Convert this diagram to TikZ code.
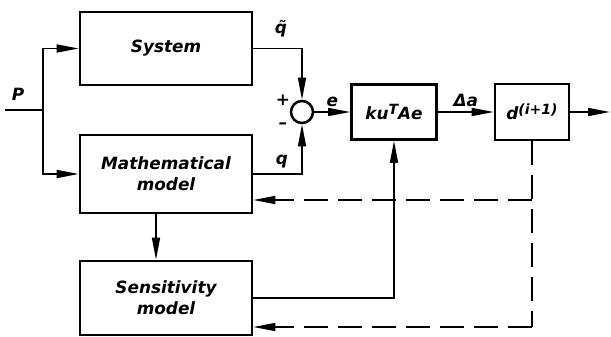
\documentclass[tikz,border=0pt]{standalone}
\usepackage{fontspec}
\setmainfont{DejaVu Sans}
\usepackage{tikz}
\usetikzlibrary{arrows.meta,positioning,calc}

\newcommand{\upidx}[1]{\raisebox{0.55ex}{\fontsize{10}{10}\selectfont #1}}

\begin{document}
\begin{tikzpicture}[x=0.025cm, y=-0.025cm, >={Triangle[length=5.5mm,width=2mm]}, line width=1.1pt, font=\bfseries\itshape\fontsize{12}{15}\selectfont]
\tikzstyle{block}=[draw, line width=1.8pt, inner sep=0pt, align=center]
\tikzstyle{sumpt}=[draw, circle, line width=1.8pt, minimum size=0.55cm, inner sep=0pt]
\tikzstyle{fb}=[dash pattern=on 6mm off 2.5mm]

\useasboundingbox (0,0) rectangle (611,336);

% blocks
\node[block, minimum width=4.3cm, minimum height=1.825cm] (sys) at (166,48.5) {System};
\node[block, minimum width=4.3cm, minimum height=1.95cm] (math) at (166,174) {Mathematical\\model};
\node[block, minimum width=4.3cm, minimum height=1.85cm] (sens) at (166,298) {Sensitivity\\model};
\node[sumpt] (sum) at (302,112) {};
\node[block, minimum width=2.125cm, minimum height=1.375cm] (ku) at (394,112) {ku\upidx{T}Ae};
\node[block, minimum width=1.85cm, minimum height=1.4cm] (d) at (532,112) {d\upidx{(i+1)}};

\coordinate (in) at (5,110);
\coordinate (split) at (43,110);
\coordinate (out) at (610,112);
\coordinate (fbm) at (532,200);
\coordinate (fbs) at (532,327);

% input
\draw (in) -- (split);
\draw[->] (split) |- (sys.west);
\draw[->] (split) |- (math.west);
\node (plab) at (18,94) {P};

% comparison
\draw[->] (sys.east) -| (sum.north);
\draw[->] (math.east) -| (sum.south);
\node (qt) at (281,29) {\~{q}};
\node (q) at (282,162) {q};
\node (plus) at (283,100) {+};
\node (minus) at (283,126) {–};

\draw[->] (sum.east) -- node[above] {e} (ku.west);
\draw[->] (ku.east) -- node[above] {Δa} (d.west);
\draw[->] (d.east) -- (out);

% sensitivity
\draw[->] ([xshift=-0.25cm]math.south) -- ([xshift=-0.25cm]sens.north);
\draw[->] (sens.east) -| (ku.south);

% feedback
\draw[fb] (d.south) -- (fbs);
\draw[fb,->] (fbm) -- (fbm -| math.east);
\draw[fb,->] (fbs) -- (fbs -| sens.east);
\end{tikzpicture}
\end{document}
